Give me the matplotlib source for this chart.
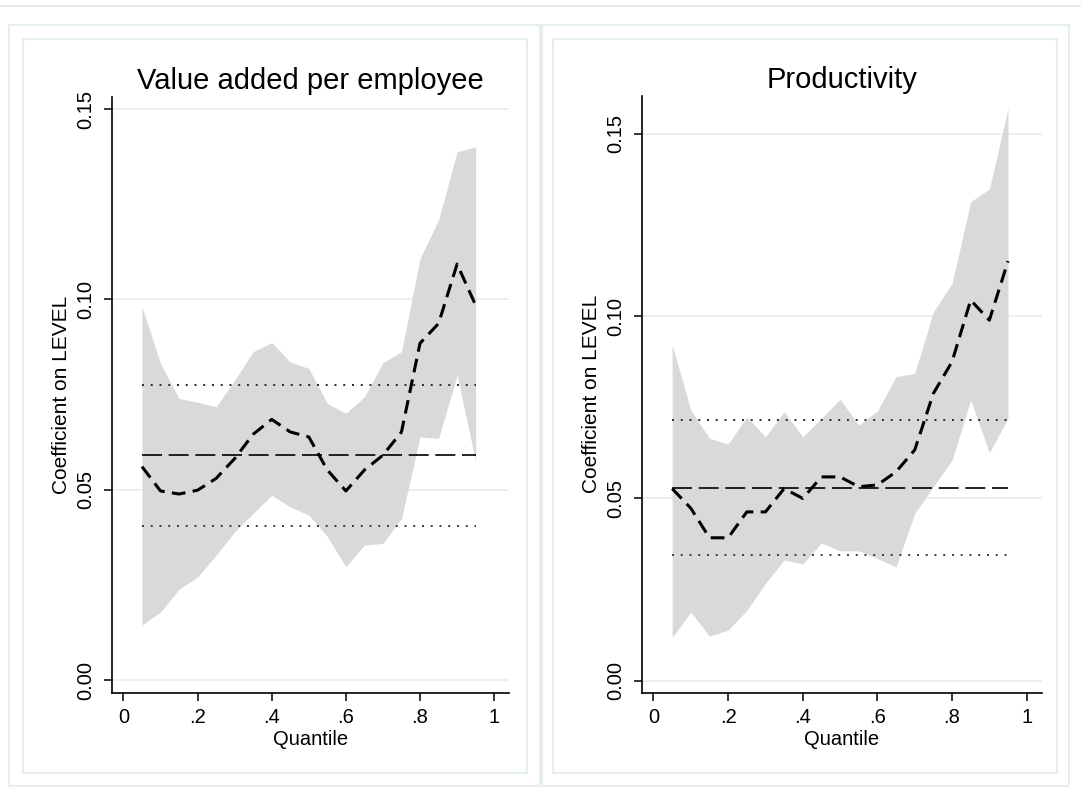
import matplotlib
matplotlib.use("Agg")
import matplotlib.pyplot as plt
from matplotlib.patches import Rectangle

plt.rcParams['font.family'] = ['Liberation Sans', 'DejaVu Sans']

W, H = 1081, 787

quantiles = [0.05, 0.10, 0.15, 0.20, 0.25, 0.30, 0.35, 0.40, 0.45, 0.50,
             0.55, 0.60, 0.65, 0.70, 0.75, 0.80, 0.85, 0.90, 0.95]

# value added per employee
va_coef = [0.0561, 0.0497, 0.0489, 0.0499, 0.0530, 0.0582, 0.0646, 0.0685, 0.0652, 0.0639,
           0.0552, 0.0497, 0.0552, 0.0591, 0.0652, 0.0885, 0.0937, 0.1093, 0.0985]
va_hi = [0.0981, 0.0832, 0.0740, 0.0730, 0.0718, 0.0788, 0.0863, 0.0887, 0.0836, 0.0819,
         0.0727, 0.0701, 0.0744, 0.0834, 0.0863, 0.1108, 0.1209, 0.1388, 0.1401]
va_lo = [0.0145, 0.0179, 0.0239, 0.0271, 0.0328, 0.0390, 0.0438, 0.0486, 0.0455, 0.0434,
         0.0377, 0.0298, 0.0355, 0.0359, 0.0425, 0.0639, 0.0635, 0.0801, 0.0574]
va_ols, va_ols_hi, va_ols_lo = 0.0591, 0.0775, 0.0405

# productivity
pr_coef = [0.0527, 0.0473, 0.0392, 0.0392, 0.0463, 0.0463, 0.0527, 0.0500, 0.0559, 0.0559,
           0.0532, 0.0537, 0.0573, 0.0633, 0.0788, 0.0875, 0.1044, 0.0989, 0.1151]
pr_hi = [0.0921, 0.0742, 0.0665, 0.0649, 0.0724, 0.0669, 0.0738, 0.0669, 0.0720, 0.0772,
         0.0701, 0.0740, 0.0834, 0.0843, 0.1012, 0.1090, 0.1314, 0.1349, 0.1570]
pr_lo = [0.0119, 0.0188, 0.0122, 0.0139, 0.0193, 0.0267, 0.0331, 0.0320, 0.0378, 0.0356,
         0.0356, 0.0335, 0.0312, 0.0459, 0.0532, 0.0605, 0.0770, 0.0625, 0.0720]
pr_ols, pr_ols_hi, pr_ols_lo = 0.0529, 0.0715, 0.0344

xticks = [0, 0.2, 0.4, 0.6, 0.8, 1.0]
xticklabels = ['0', '.2', '.4', '.6', '.8', '1']
yticks = [0.0, 0.05, 0.10, 0.15]
yticklabels = ['0.00', '0.05', '0.10', '0.15']

frame_col = '#e6eef0'
grid_col = '#e6eef0'

fig = plt.figure(figsize=(W / 100, H / 100), dpi=100)


def box(x0, y0, x1, y1):
    # pixel coords (top-left origin) -> figure rectangle
    r = Rectangle((x0 / W, 1 - y1 / H), (x1 - x0) / W, (y1 - y0) / H,
                  transform=fig.transFigure, fill=False, edgecolor=frame_col, lw=1.5)
    fig.add_artist(r)


# outer frames
fig.add_artist(plt.Line2D([0, 1], [1 - 6 / H, 1 - 6 / H], transform=fig.transFigure,
                          color=frame_col, lw=1.5))
box(8.5, 25, 540, 786)
box(23, 39, 527, 773)
box(542, 25, 1069, 786)
box(553, 39, 1057, 773)


def panel(rect, title, coef, hi, lo, ols, ols_hi, ols_lo, ylim_top):
    ax = fig.add_axes(rect)
    ax.fill_between(quantiles, lo, hi, color='#d9d9d9', lw=0, zorder=1)
    ax.plot(quantiles, coef, color='black', lw=2.2, dashes=(4.5, 2.4), zorder=4)
    ax.plot([quantiles[0], quantiles[-1]], [ols, ols], color='black', lw=1.2,
            dashes=(12, 4), zorder=3)
    ax.plot([quantiles[0], quantiles[-1]], [ols_hi, ols_hi], color='#2a2a22', lw=1.4,
            linestyle=(0, (1, 3.5)), zorder=3)
    ax.plot([quantiles[0], quantiles[-1]], [ols_lo, ols_lo], color='#4a3520', lw=1.4,
            linestyle=(0, (1, 3.5)), zorder=3)
    ax.set_xlim(-0.03, 1.04)
    ax.set_ylim(-0.0033, ylim_top)
    ax.set_xticks(xticks)
    ax.set_xticklabels(xticklabels)
    ax.set_yticks(yticks)
    ax.set_yticklabels(yticklabels, rotation=90, va='center')
    for y in yticks:
        ax.axhline(y, color=grid_col, lw=1.2, zorder=0)
    for s in ['top', 'right']:
        ax.spines[s].set_visible(False)
    for s in ['left', 'bottom']:
        ax.spines[s].set_linewidth(1.2)
    ax.tick_params(axis='both', length=6, width=1.1, labelsize=14.5)
    ax.tick_params(axis='y', pad=6)
    ax.tick_params(axis='x', pad=5)
    ax.set_title(title, fontsize=21, pad=6)
    ax.set_ylabel('Coefficient on LEVEL', fontsize=15, labelpad=4)
    ax.set_xlabel('Quantile', fontsize=14.5, labelpad=2)
    return ax


panel([112.3 / W, 1 - 692.7 / H, (509 - 112.3) / W, (692.7 - 97) / H],
      'Value added per employee', va_coef, va_hi, va_lo, va_ols, va_ols_hi, va_ols_lo, 0.1532)
panel([642.3 / W, 1 - 692.7 / H, (1041.6 - 642.3) / W, (692.7 - 96) / H],
      'Productivity', pr_coef, pr_hi, pr_lo, pr_ols, pr_ols_hi, pr_ols_lo, 0.1604)

fig.savefig('out.png', dpi=100)
